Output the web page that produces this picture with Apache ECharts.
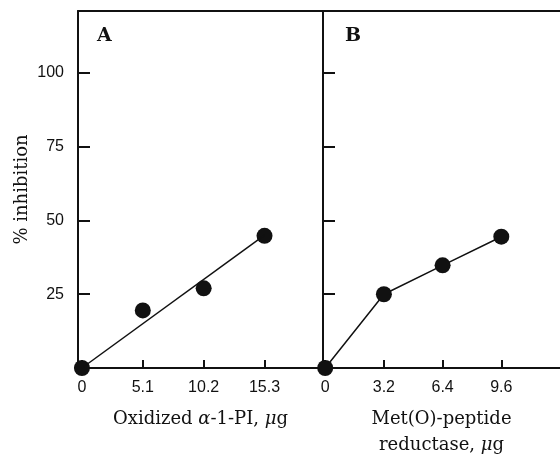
<!DOCTYPE html>
<html>
<head>
<meta charset="utf-8">
<script src="https://cdn.jsdelivr.net/npm/echarts@6/dist/echarts.min.js"></script>
<style>
  html, body { margin: 0; padding: 0; background: #fff; }
  #chart { width: 560px; height: 454px; }
</style>
</head>
<body>
<div id="chart"></div>
<script>
// panel A: oxidized alpha-1-PI
const doseA = [0, 5.1, 10.2, 15.3]
const inhibA = [0, 19.5, 27, 44.8]
const fitA = [[0, 0], [15.3, 45]]
// panel B: Met(O)-peptide reductase
const doseB = [0, 3.2, 6.4, 9.6]
const inhibB = [0, 25, 34.8, 44.5]
const yTicks = [25, 50, 75, 100]

const ink = '#111'
const serif = 'DejaVu Serif'
const sans = 'Liberation Sans'

let chart = echarts.init(document.getElementById('chart'))

function bottomAxis (grid, min, max, ticks, name, gap) {
  return {
    type: 'value',
    gridIndex: grid,
    position: 'bottom',
    min: min,
    max: max,
    splitLine: { show: false },
    axisLine: { onZero: false, lineStyle: { color: ink, width: 2 } },
    axisTick: { inside: true, length: 8, customValues: ticks, lineStyle: { color: ink, width: 2 } },
    axisLabel: { customValues: ticks, margin: 12, fontFamily: sans, fontSize: 16, color: ink },
    name: name,
    nameLocation: 'middle',
    nameGap: gap,
    nameTextStyle: {
      fontFamily: serif,
      fontSize: 18,
      color: ink,
      lineHeight: 26,
      rich: { i: { fontFamily: serif, fontStyle: 'italic', fontSize: 18, color: ink, lineHeight: 26 } }
    }
  }
}

function topAxis (grid) {
  return {
    type: 'value',
    gridIndex: grid,
    position: 'top',
    min: 0,
    max: 1,
    splitLine: { show: false },
    axisLine: { onZero: false, lineStyle: { color: ink, width: 2 } },
    axisTick: { show: false },
    axisLabel: { show: false }
  }
}

function leftAxis (grid, withLabels) {
  return {
    type: 'value',
    gridIndex: grid,
    min: 0,
    max: 121,
    splitLine: { show: false },
    axisLine: { show: true, onZero: false, lineStyle: { color: ink, width: 2 } },
    axisTick: { show: true, inside: true, length: 12, customValues: yTicks, lineStyle: { color: ink, width: 2 } },
    axisLabel: { show: withLabels, customValues: yTicks, margin: 14, fontFamily: sans, fontSize: 16, color: ink },
    name: withLabels ? '% inhibition' : '',
    nameLocation: 'middle',
    nameGap: 47,
    nameRotate: 90,
    nameTextStyle: { fontFamily: serif, fontSize: 18, color: ink }
  }
}

let option = {
  backgroundColor: '#fff',
  animation: false,
  title: [
    { text: 'A', left: 92, top: 22, textStyle: { fontFamily: serif, fontSize: 19, fontWeight: 'bold', color: ink } },
    { text: 'B', left: 340, top: 22, textStyle: { fontFamily: serif, fontSize: 19, fontWeight: 'bold', color: ink } }
  ],
  grid: [
    { left: 78, width: 245, top: 11, bottom: 86, outerBoundsMode: 'none' },
    { left: 323, right: 0, top: 11, bottom: 86, outerBoundsMode: 'none' }
  ],
  xAxis: [
    bottomAxis(0, -0.33, 20.2, doseA, 'Oxidized {i|α}-1-PI, {i|μ}g', 38),
    bottomAxis(1, -0.12, 12.8, doseB, 'Met(O)-peptide\nreductase, {i|μ}g', 38),
    topAxis(0),
    topAxis(1)
  ],
  yAxis: [leftAxis(0, true), leftAxis(1, false)],
  series: [
    {
      type: 'line',
      xAxisIndex: 0,
      yAxisIndex: 0,
      data: fitA,
      symbol: 'none',
      lineStyle: { color: ink, width: 1.5 }
    },
    {
      type: 'scatter',
      xAxisIndex: 0,
      yAxisIndex: 0,
      data: doseA.map((d, i) => [d, inhibA[i]]),
      symbolSize: 16,
      itemStyle: { color: ink, opacity: 1 }
    },
    {
      type: 'line',
      xAxisIndex: 1,
      yAxisIndex: 1,
      data: doseB.map((d, i) => [d, inhibB[i]]),
      symbol: 'circle',
      symbolSize: 16,
      showAllSymbol: true,
      lineStyle: { color: ink, width: 1.5 },
      itemStyle: { color: ink }
    }
  ]
}
chart.setOption(option)
</script>
</body>
</html>
